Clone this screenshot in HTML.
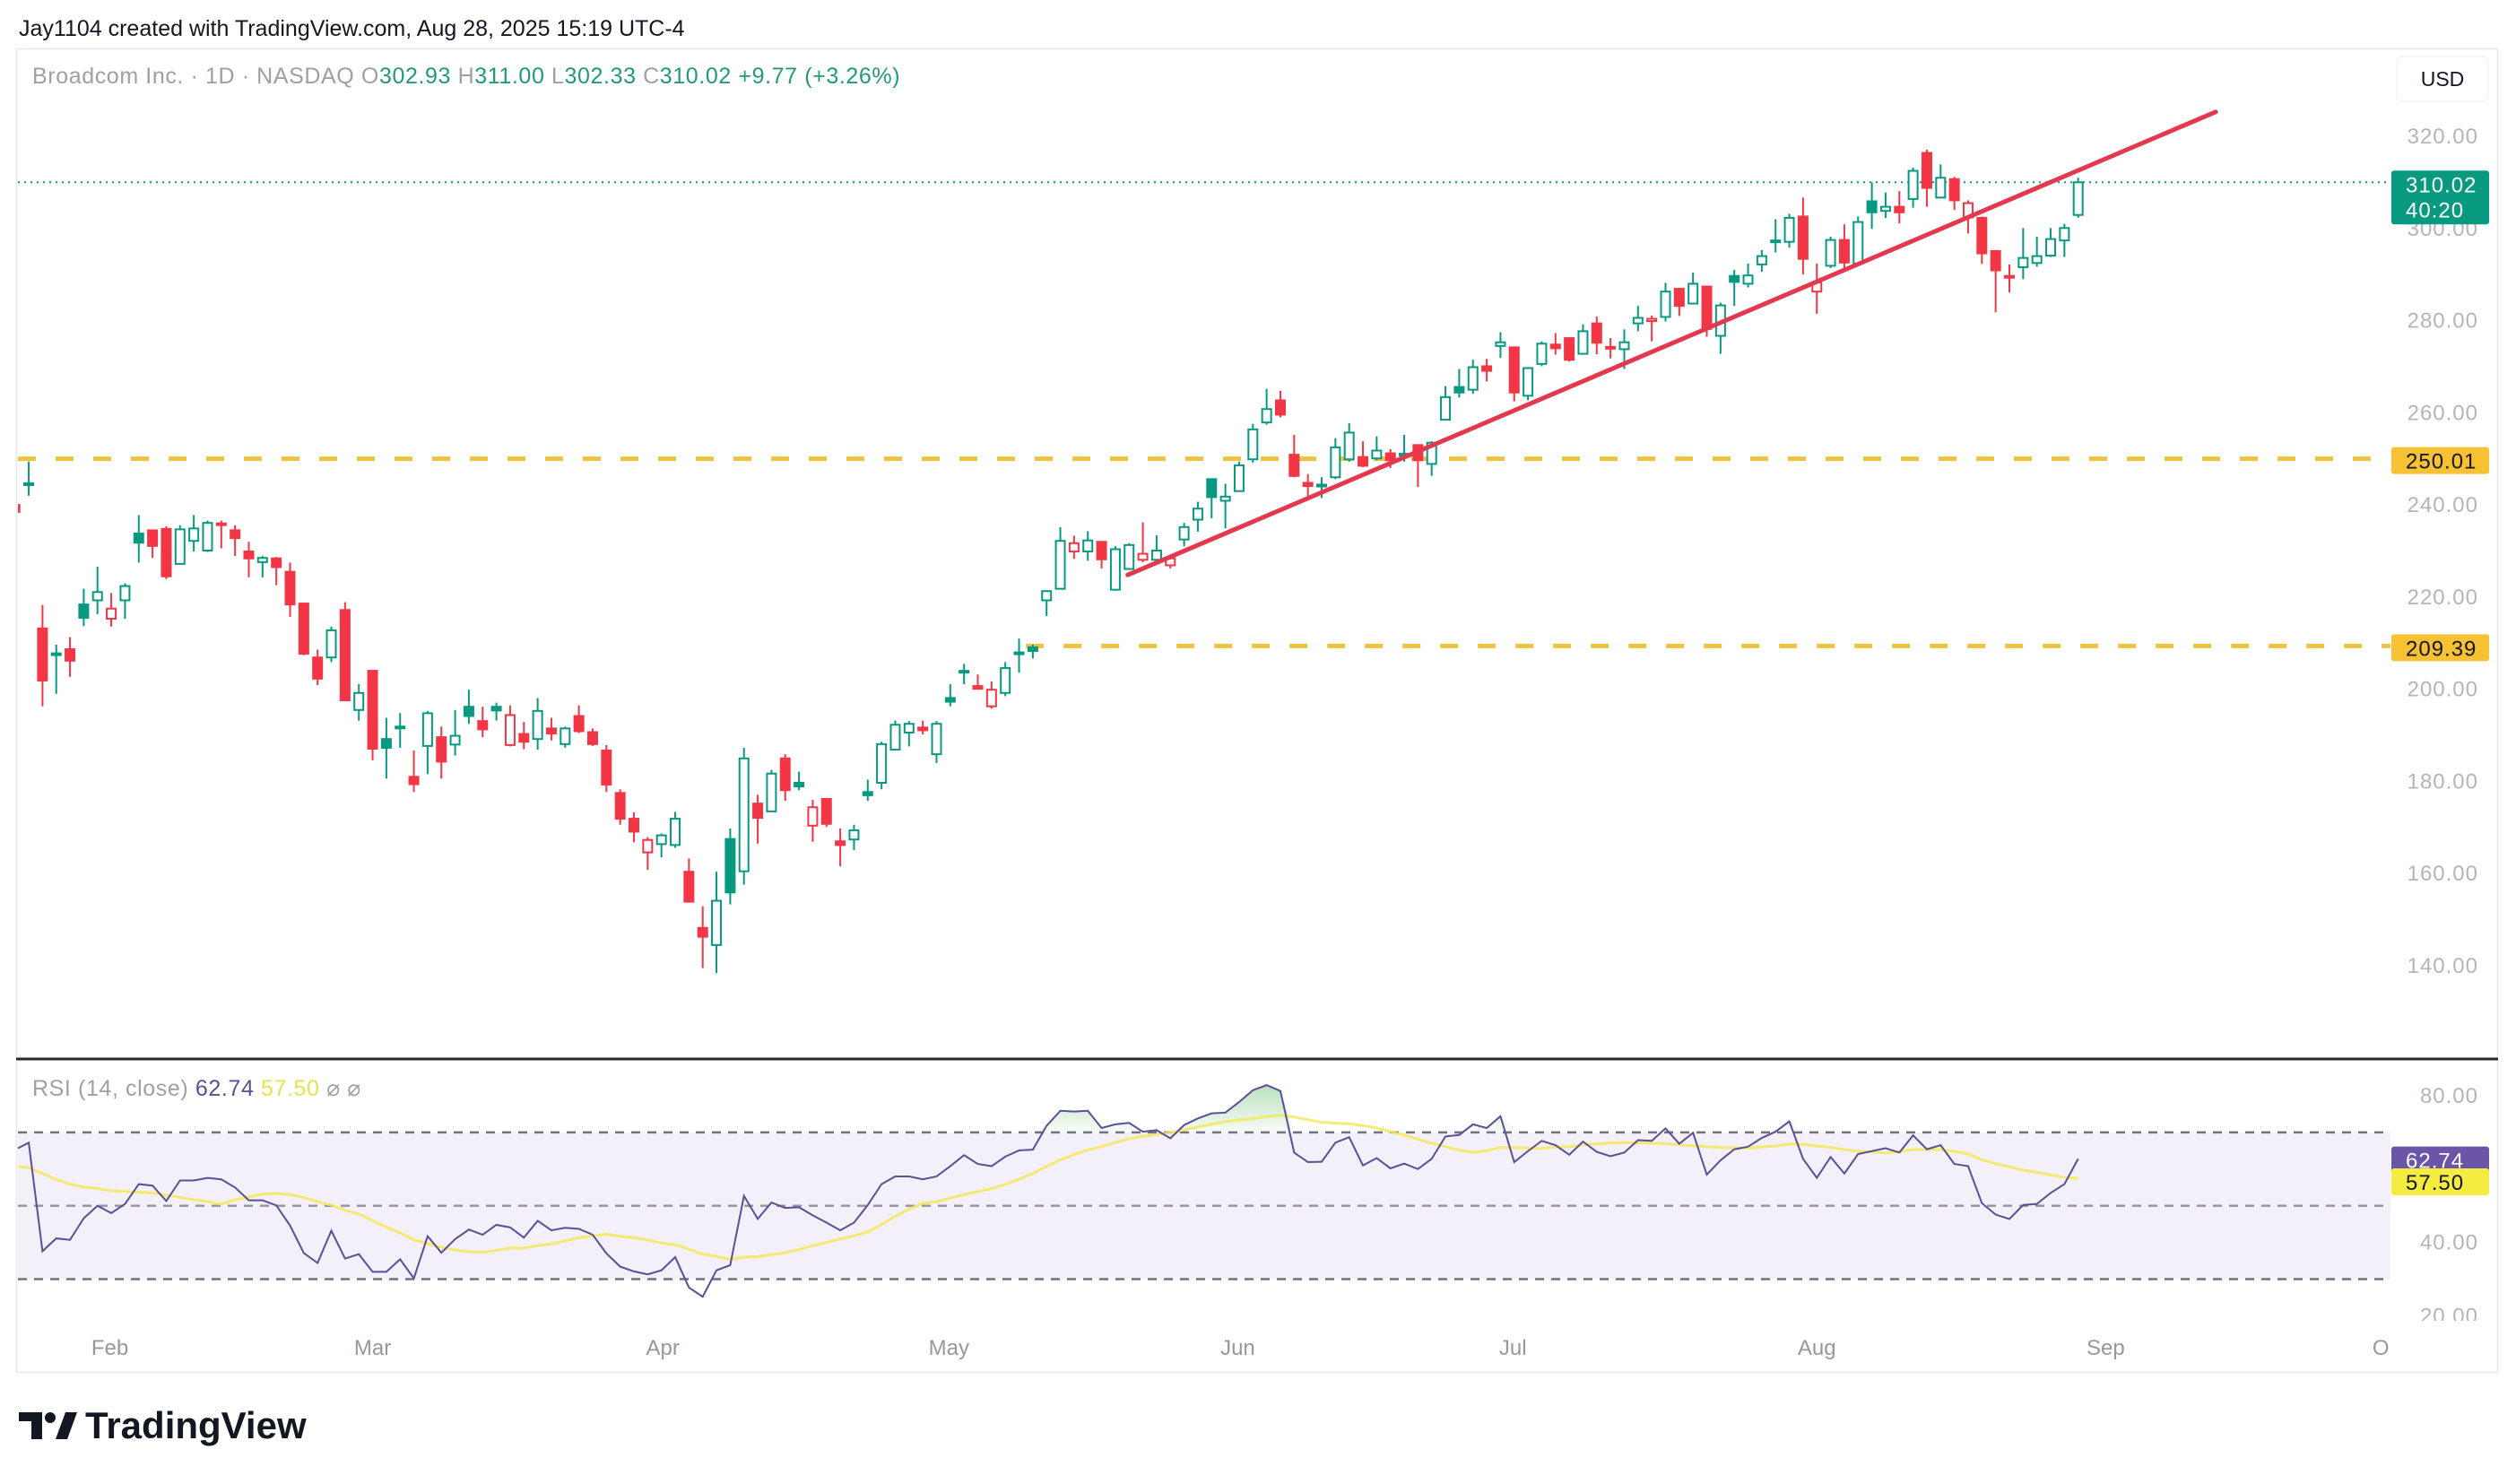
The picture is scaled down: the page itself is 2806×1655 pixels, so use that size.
<!DOCTYPE html>
<html><head><meta charset="utf-8">
<style>
html,body{margin:0;padding:0;background:#fff;}
body{width:2806px;height:1650px;overflow:hidden;font-family:"Liberation Sans",sans-serif;}
svg text{font-family:"Liberation Sans",sans-serif;}
</style></head>
<body>
<svg id="chart" width="2806" height="1650" viewBox="0 0 2806 1650" xmlns="http://www.w3.org/2000/svg">
<defs>
<clipPath id="mainClip"><rect x="20" y="56" width="2646" height="1124"/></clipPath>
<clipPath id="rsiClip"><rect x="20" y="1183" width="2646" height="300"/></clipPath>
<clipPath id="rsiAxisClip"><rect x="2666" y="1183" width="120" height="290"/></clipPath>
<linearGradient id="obGrad" x1="0" y1="0" x2="0" y2="1"><stop offset="0" stop-color="#66bb6a" stop-opacity="0.45"/><stop offset="1" stop-color="#66bb6a" stop-opacity="0.05"/></linearGradient>
</defs>
<text x="21" y="40" font-size="25" fill="#131722">Jay1104 created with TradingView.com, Aug 28, 2025 15:19 UTC-4</text>
<rect x="18.5" y="54.5" width="2767" height="1476" fill="none" stroke="#e6e8ec" stroke-width="1.5"/>
<text x="36" y="93" font-size="25" letter-spacing="0.6"><tspan fill="#a0a0a0">Broadcom Inc. · 1D · NASDAQ  O</tspan><tspan fill="#22997a">302.93  </tspan><tspan fill="#a0a0a0">H</tspan><tspan fill="#22997a">311.00  </tspan><tspan fill="#a0a0a0">L</tspan><tspan fill="#22997a">302.33  </tspan><tspan fill="#a0a0a0">C</tspan><tspan fill="#22997a">310.02  +9.77 (+3.26%)</tspan></text>
<rect x="2673" y="63" width="102" height="50" rx="6" fill="#fff" stroke="#eceef2"/>
<text x="2724" y="96" font-size="23" text-anchor="middle" fill="#131722">USD</text>
<g id="priceAxis"></g>
<g id="levels"></g>
<g id="candles" clip-path="url(#mainClip)"></g>
<g id="trend" clip-path="url(#mainClip)"></g>
<line x1="18" y1="1181" x2="2786" y2="1181" stroke="#2a2a2a" stroke-width="3"/>
<g id="rsiPane"></g>
<g id="timeAxis"></g>
<g id="labels"></g>
<g>
<path d="M21 1575 h26 v30 h-12 v-20 h-14 z" fill="#131722"/>
<circle cx="56" cy="1581" r="6" fill="#131722"/>
<path d="M62 1605 l11 -30 h13 l-11 30 z" fill="#131722"/>
<text x="95" y="1604" font-size="42" font-weight="bold" fill="#131722">TradingView</text>
</g>
</svg>
<script>
const opens=[240,244.5,213.2,207.5,208.7,218.4,219.3,215.3,219.3,233.8,234.5,234.8,227.2,232.2,230.1,235.8,234.5,229.9,227.6,228.4,225.5,218.6,206.9,206.9,217.2,195.5,204,189.2,191.7,181,187.7,189.6,188,196.2,193.1,196.2,187.9,190.3,189.2,191.5,188.1,194.2,190.7,186.7,177.5,171.9,164.6,166.4,166.2,160.4,148.2,144.5,167.5,160.5,175.2,173.5,185,179.7,170.4,176.2,167,167.4,177.7,179.7,186.9,190.6,191.7,185.9,198.1,203.8,200.7,196.3,199.2,207.8,209.1,219.3,221.8,229.9,229.9,232,221.6,226.1,228.1,228.1,226.9,232.5,236.8,245.6,240.9,243,249.9,257.9,262.7,250.9,244.8,244.4,246,249.9,250.4,250.1,251.2,251.0,253,248.9,258.5,265.6,265,270.1,274.5,274.2,263.7,270.6,274.8,276.2,272.8,279.4,274.3,273.8,279.4,279.9,280.8,286.9,283.7,287.4,276.7,289.7,288,292.2,297.2,297.1,302.6,286.3,291.9,297.5,292.4,305.9,303.8,304.7,306.4,316.4,306.7,310.7,302.4,302.3,295.1,289.7,291.6,292.5,294.1,297.4,302.93];
const highs=[241,249.4,218.3,209.7,211.3,221.8,226.6,220.9,223,237.8,234.5,235.4,235.6,237.8,236.6,236.6,235.6,232,228.9,228.7,227.5,218.6,208.6,213.6,218.9,201.1,204,193.8,194.8,186.7,195.3,191.9,195.5,199.9,196.2,197.1,196.5,192.9,198.1,193.8,191.9,196.5,191.5,187.9,178.3,173.3,167.9,168.7,173.4,163.3,152.9,160.4,169.8,187.3,177.1,182.5,185.9,182.1,176,176.2,169.8,170.6,180.4,188.6,193.2,193.1,193.2,193.1,201.1,205.5,203.2,201.7,205.9,211,209.7,221.3,235.2,233.3,234.3,232,231.1,231.7,236.2,233.4,228.9,236.1,240.7,245.6,244.6,249.4,257.6,265.2,264.8,255.2,246.7,246,254.5,257.7,253.8,254.9,252.1,255.2,253,253.8,265.8,269.5,271.5,271.7,277.5,274.2,269.9,275.5,277.3,276.2,279.2,280.9,276.2,278.1,283.2,281.1,288.2,287.1,290.4,287.4,283.9,291,292.4,295.3,302,303.2,306.7,292.4,298.2,300.9,302.6,310,307.8,308.1,313.2,317.1,313.9,311.2,306.1,302.6,295.3,292.2,300.1,298.2,300.1,301,311];
const lows=[238,242,196.3,199,202.7,213.7,216.3,213.6,215.3,227.5,228.5,223.9,227,229.9,229.8,230.6,228.9,224.3,224.3,222.6,215.7,207.4,200.9,205.9,197.4,193.2,184.6,180.6,187.3,177.7,181.6,180.6,185.6,192.5,189.6,193.2,187.6,187,186.9,188.9,187.3,190.5,187.7,177.7,170.6,166.8,160.8,163.5,165.6,153.7,139.5,138.4,153.3,157.6,166.5,173.3,175.8,178.1,166.9,170.1,161.6,165.1,175.8,178.3,186.7,187.6,190.2,184,196.3,201.1,199.9,195.8,198.5,203.6,206.7,215.9,221.8,228.3,227.9,226.2,221.4,225.9,227.6,227.2,226.2,231,234.2,237.1,234.9,242.9,249.2,257.4,259,246,241.1,241.5,245.6,249.4,248.2,249.7,248,249.4,243.9,246.3,258.3,263.3,264.1,266.8,271.9,262.5,262.7,270.1,272.6,271.1,272.6,272.7,271.8,269.5,277.7,275.5,279.8,281,283.5,276.5,272.8,283.2,287.2,290.6,294.8,295.8,290,281.5,291.4,291.2,292.3,299.9,302.3,301.1,304.5,304.7,306.6,304,298.9,292.3,281.8,286.1,289,291.7,293.8,293.8,302.33];
const closes=[238.5,244.7,201.9,207.8,206.2,215.5,221.1,217.5,222.4,231.8,231.1,224.5,234.7,234.9,236.1,236.0,232.8,228.4,228.5,226.5,218.4,207.7,202.3,212.8,197.6,199.2,187.1,187.3,191.9,179.4,194.8,184.3,189.9,194.2,191.3,195.4,194.4,188.6,195.3,190.4,191.5,190.9,188.1,179.3,171.9,169.1,167.3,168.3,171.9,153.9,146.3,154.1,155.9,185,172.1,181.7,178.1,178.9,174.4,170.8,166.2,169.4,177,188.1,192.3,192.5,191.1,192.5,197.3,204,200.1,199.9,204.6,208,208.3,221.3,232.2,231.7,232.3,228.2,230.4,231.3,229.4,230.1,228.4,235.2,239.2,241.7,241.8,248.6,256.4,260.8,259.6,246.3,244.1,244.2,252.5,255.7,248.5,251.8,249.7,251.1,249.7,253.5,263.4,264.4,269.9,269.1,275.3,264.4,269.7,275,274,271.5,277.7,275.2,274.2,275.3,280.6,280.4,286.3,283.2,288,278.2,283.3,288.4,289.8,294,297.4,302.3,293.4,288.3,297.5,292.6,301.4,303.5,304.7,303.5,312.5,308.8,311,306.1,305.5,294.6,290.9,289.5,293.6,294,297.7,300.1,310.02];
const rsiValues=[65.3,67.2,37.6,41.1,40.7,46.6,50,48,50.5,55.9,55.5,51.3,56.9,56.9,57.6,57.2,55,51.5,51.5,50.1,44.6,37.1,34.4,43.2,35.6,36.8,32,32,35.4,30.2,41.7,37.2,40.9,43.5,42.1,44.8,44.1,41.3,45.9,43.3,44,43.7,42.1,37,33.4,32.1,31.3,32.4,36,27.7,25.2,32.4,33.8,52.7,46.4,50.9,49.4,49.6,47.4,45.4,43.3,45.4,50.2,55.9,58,58,57.2,58,60.8,63.8,61.4,60.8,63.4,65.1,65.3,71.8,75.9,75.7,75.9,71.2,72.2,72.6,70.2,70.6,68.4,72,73.8,75.2,75.4,78.3,81.5,82.9,81.3,64.5,61.9,62,67.2,68.7,61,63,60.2,61.5,60,62.8,68.9,69.3,72.2,71.2,74.4,61.9,64.9,67.7,66.5,63.9,67.5,64.7,63.5,64.5,67.9,67.7,71.1,66.9,69.9,58.5,62.4,65.4,66.1,68.5,70.2,73,62.8,57.6,63.3,58.8,64.1,64.9,65.7,64.5,69.2,65.4,66.5,61.4,60.8,50.7,47.6,46.4,50.2,50.5,53.5,55.9,62.8];
const rsiMaPrefix=[60.8,60.4,58.8,57.2,55.9,55.1,54.7,54.1,53.9,53.7,53.5,52.9,52.3];
const priceTicks=[320,300,280,260,240,220,200,180,160,140];
const priceTickLabels=["320.00","300.00","280.00","260.00","240.00","220.00","200.00","180.00","160.00","140.00"];
const rsiTicks=[80,40,20];
const rsiTickLabels=["80.00","40.00","20.00"];
const monthLabels=["Feb","Mar","Apr","May","Jun","Jul","Aug","Sep","O"];
const monthIndex=[6.9,26,47.1,67.9,88.9,108.9,131,152,172];
const levelValues=[250.01,209.39];
const levelStartIndex=[-2,73.5];
const trendStart=[80.9,224.8];
const trendEnd=[160,325.3];
const lastPrice=310.02;
const lastRsi=62.74, lastRsiMa=57.50;

const NS="http://www.w3.org/2000/svg";
function X(i){return 16.7+15.34*i;}
function Y(p){return 152+(320-p)*5.139;}
function RY(v){return 1222+(80-v)*4.09;}
function mk(tag,attrs,parent){const e=document.createElementNS(NS,tag);for(const k in attrs)e.setAttribute(k,attrs[k]);parent.appendChild(e);return e;}
const G="#089981",R="#f23645";

const pa=document.getElementById('priceAxis');
priceTicks.forEach((p,k)=>{const t=mk('text',{x:2764,y:Y(p)+8,'font-size':24,'letter-spacing':1,'text-anchor':'end',fill:'#b2b5be'},pa);t.textContent=priceTickLabels[k];

});

const lv=document.getElementById('levels');
const dl=mk('line',{x1:20,x2:2666,y1:Y(lastPrice),y2:Y(lastPrice),stroke:G,'stroke-width':2,'stroke-dasharray':'2 5'},lv);


levelValues.forEach((v,k)=>{const l=mk('line',{x1:Math.max(20,X(levelStartIndex[k])),x2:2666,y1:Y(v),y2:Y(v),stroke:'#ecc440','stroke-width':5,'stroke-dasharray':'20 22'},lv);

});

const cg=document.getElementById('candles');
for(let i=0;i<closes.length;i++){
  const o=opens[i],c=closes[i],h=highs[i],lo=lows[i];
  const prev=i>0?closes[i-1]:o;
  const col=c>=prev?G:R;
  const hollow=c>o;
  const g=mk('g',{},cg);
  
  
  const x=X(i);
  const top=Y(Math.max(o,c)),bot=Y(Math.min(o,c));
  mk('line',{x1:x,x2:x,y1:Y(h),y2:top,stroke:col,'stroke-width':2},g);
  mk('line',{x1:x,x2:x,y1:bot,y2:Y(lo),stroke:col,'stroke-width':2},g);
  const hgt=Math.max(bot-top,2);
  if(hollow) mk('rect',{x:x-5,y:top,width:10,height:hgt,fill:'#fff',stroke:col,'stroke-width':2},g);
  else mk('rect',{x:x-6,y:top-1,width:12,height:hgt+2,fill:col},g);
}
const tl=mk('line',{x1:X(trendStart[0]),y1:Y(trendStart[1]),x2:X(trendEnd[0]),y2:Y(trendEnd[1]),stroke:'#e2394f','stroke-width':5,'stroke-linecap':'round'},document.getElementById('trend'));



const rp=document.getElementById('rsiPane');
const band=mk('rect',{x:20,y:RY(70),width:2646,height:RY(30)-RY(70),fill:'#7e57c2','fill-opacity':0.09},rp);


[70,50,30].forEach(v=>{const l=mk('line',{x1:20,x2:2666,y1:RY(v),y2:RY(v),stroke:v===50?'#9598a1':'#6f7280','stroke-width':2.5,'stroke-dasharray':'10 8'},rp);

});
const rax=mk('g',{'clip-path':'url(#rsiAxisClip)'},rp);
rsiTicks.forEach((v,k)=>{const t=mk('text',{x:2764,y:RY(v)+8,'font-size':24,'letter-spacing':1,'text-anchor':'end',fill:'#b2b5be'},rax);t.textContent=rsiTickLabels[k];

});
const rc=mk('g',{'clip-path':'url(#rsiClip)'},rp);
const cur=[];
for(let i=0;i<rsiValues.length;i++){const v=Math.max(rsiValues[i],70);cur.push([X(i),RY(v)]);}
let d='M'+X(0)+','+RY(70)+' '+cur.map(p=>'L'+p[0]+','+p[1]).join(' ')+' L'+X(rsiValues.length-1)+','+RY(70)+' Z';
const ob=mk('path',{d:d,fill:'url(#obGrad)'},rc);


const ma=[];
for(let i=0;i<rsiValues.length;i++){
  if(i<rsiMaPrefix.length) ma.push(rsiMaPrefix[i]);
  else {let s=0;for(let k=i-13;k<=i;k++)s+=rsiValues[k];ma.push(s/14);}
}
const maLine=mk('polyline',{points:ma.map((v,i)=>X(i)+','+RY(v)).join(' '),fill:'none',stroke:'#f5e85a','stroke-width':3,'stroke-opacity':0.85},rc);


const rl=mk('polyline',{points:rsiValues.map((v,i)=>X(i)+','+RY(v)).join(' '),fill:'none',stroke:'#5b4f96','stroke-width':2},rc);


const rleg=mk('text',{x:36,y:1222,'font-size':25,'letter-spacing':0.6},rp);


rleg.innerHTML='<tspan fill="#a0a0a0">RSI (14, close)  </tspan><tspan fill="#5b4f96">62.74  </tspan><tspan fill="#e6e24f">57.50  </tspan><tspan fill="#a0a0a0">⌀  ⌀</tspan>';

const ta=document.getElementById('timeAxis');
monthLabels.forEach((m,k)=>{const t=mk('text',{x:X(monthIndex[k]),y:1511,'font-size':24,'text-anchor':'middle',fill:'#9598a1'},ta);t.textContent=m;

});

const lb=document.getElementById('labels');
function tag(yc,h,bg,lines,fg,name){
  const g=mk('g',{},lb);
  
  
  mk('rect',{x:2667,y:yc-h/2,width:109,height:h,rx:3,fill:bg},g);
  lines.forEach((s,k)=>{const t=mk('text',{x:2683,y:yc-h/2+24+k*28,'font-size':24,'letter-spacing':1,fill:fg},g);t.textContent=s;});
}
tag(Y(lastPrice)+17,60,'#089981',[lastPrice.toFixed(2),'40:20'],'#fff','last-price-label');
levelValues.forEach(v=>tag(Y(v)+2,30,'#f6c233',[v.toFixed(2)],'#131722','level-price-label'));
tag(RY(lastRsi)+1,30,'#6a55a8',[lastRsi.toFixed(2)],'#fff','rsi-value-label');
tag(RY(lastRsiMa)+4,30,'#f5ec42',[lastRsiMa.toFixed(2)],'#131722','rsi-ma-value-label');
</script>
</body></html>
